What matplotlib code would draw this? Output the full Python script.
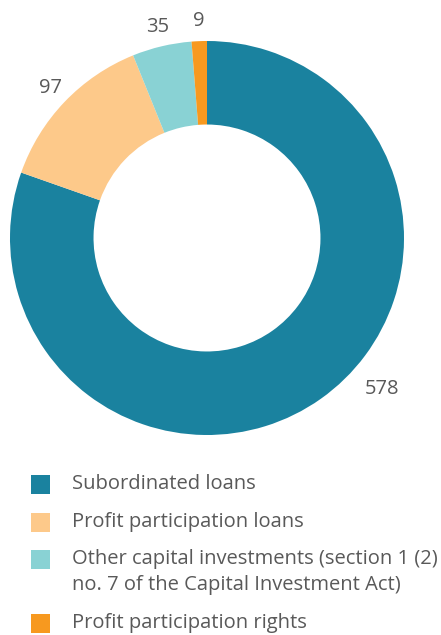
import numpy as np
import matplotlib
matplotlib.use("Agg")
import matplotlib.pyplot as plt
from matplotlib.patches import Rectangle

categories = [
    "Subordinated loans",
    "Profit participation loans",
    "Other capital investments (section 1 (2)\nno. 7 of the Capital Investment Act)",
    "Profit participation rights",
]
values = [578, 97, 35, 9]
colors = ["#1A829F", "#FDC98A", "#89D2D4", "#F7991F"]

W, H = 441, 635
plt.rcParams["font.family"] = ["Open Sans", "DejaVu Sans"]
text_color = "#595959"

fig = plt.figure(figsize=(W / 100, H / 100), dpi=100)
ax = fig.add_axes([0, 0, 1, 1])

cx, cy, R = 207, H - 238, 197
ring = 0.424
wedges, _ = ax.pie(values, colors=colors, startangle=90, counterclock=False,
                   center=(cx, cy), radius=R,
                   wedgeprops=dict(width=R * ring, linewidth=0))
ax.set_xlim(0, W)
ax.set_ylim(0, H)
ax.set_aspect("equal")
ax.axis("off")

# value labels around the ring
for i, (w, v) in enumerate(zip(wedges, values)):
    if i == 0:
        x, y = 382, H - 389
    else:
        ang = np.deg2rad((w.theta1 + w.theta2) / 2)
        x = cx + 1.1 * R * np.cos(ang)
        y = cy + 1.1 * R * np.sin(ang)
    ax.text(x, y, f"{v}", ha="center", va="center", fontsize=14.5, color=text_color)

# legend
rows = [484, 522, 559, 623]
for lab, col, yc in zip(categories, colors, rows):
    ax.add_patch(Rectangle((31, H - yc - 9.5), 19, 19, color=col, lw=0))
    lines = lab.split("\n")
    for k, ln in enumerate(lines):
        ax.text(72, H - (yc + k * 26), ln, ha="left", va="center",
                fontsize=14.5, color=text_color)

fig.savefig("out.png", dpi=100)
